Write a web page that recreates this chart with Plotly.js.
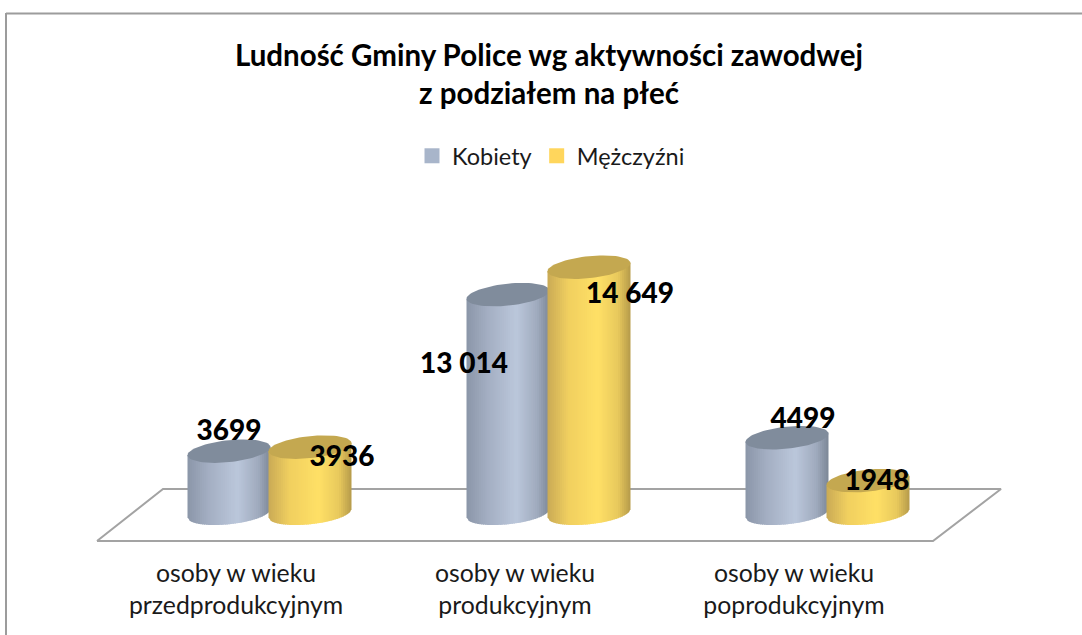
<!DOCTYPE html>
<html><head><meta charset="utf-8">
<script src="https://cdn.plot.ly/plotly-3.0.1.min.js"></script>
<style>html,body{margin:0;padding:0;background:#fff;overflow:hidden}</style>
</head><body><div id="chart" style="width:1082px;height:635px"></div>
<script>
// ---- data ----
const categories = ["osoby w wieku<br>przedprodukcyjnym", "osoby w wieku<br>produkcyjnym", "osoby w wieku<br>poprodukcyjnym"];
const kobiety = [3699, 13014, 4499];
const mezczyzni = [3936, 14649, 1948];
const kobietyLabels = ["3699", "13 014", "4499"];
const mezczyzniLabels = ["3936", "14 649", "1948"];
const seriesNames = ["Kobiety", "Mężczyźni"];

// ---- geometry ----
const W = 1082, H = 635, plotBottom = 550;
const x0px = 236, pxPerCat = 279;      // tick 0 position, category spacing
const y0px = 513.3, pxPerUnit = 0.0168;  // baseline, px per person
const depthShift = 33;                 // bars sit behind the tick plane
const X = p => p / pxPerCat;           // px delta -> x units
const Y = p => -p / pxPerUnit;         // px delta (down) -> y units
const A = 41.5, B = 11, K = 0.1, STRIPS = 40;

const blueStops = [[0,[139,150,168]],[.25,[163,174,194]],[.6,[187,199,219]],[.85,[160,171,190]],[1,[124,135,151]]];
const yellowStops = [[0,[201,170,85]],[.25,[240,207,95]],[.6,[255,224,102]],[.85,[232,201,92]],[1,[181,154,74]]];
const topColors = ["#808c9c", "#c4a850"];
const legendColors = ["#a8b5ca", "#ffd65c"];

function shade(stops, t) {
  for (let i = 1; i < stops.length; i++) {
    if (t <= stops[i][0]) {
      const [a, ca] = stops[i-1], [b, cb] = stops[i], f = (t-a)/(b-a);
      return "rgb(" + ca.map((c, j) => Math.round(c + (cb[j]-c)*f)).join(",") + ")";
    }
  }
  return "rgb(" + stops[stops.length-1][1].join(",") + ")";
}

function cylinder(cat, dxPx, value, stops, topColor) {
  const cx = cat + X(depthShift + dxPx), out = [];
  const edge = d => B * Math.sqrt(Math.max(0, 1 - (d/A)*(d/A)));
  for (let i = 0; i < STRIPS; i++) {
    const d1 = -A + 2*A*i/STRIPS, d2 = Math.min(A, -A + 2*A*(i+1.4)/STRIPS);
    const yb = d => Y(edge(d) - K*d), yt = d => value + Y(-K*d);
    out.push({
      type: "scatter", mode: "lines", fill: "toself", fillcolor: shade(stops, (i+.5)/STRIPS),
      line: {width: 0}, showlegend: false, hoverinfo: "skip",
      x: [cx+X(d1), cx+X(d2), cx+X(d2), cx+X(d1), cx+X(d1)],
      y: [yt(d1), yt(d2), yb(d2), yb(d1), yt(d1)]
    });
  }
  const ex = [], ey = [];
  for (let a = 0; a <= 72; a++) {
    const d = A*Math.cos(a/72*2*Math.PI);
    ex.push(cx + X(d));
    ey.push(value + Y(B*Math.sin(a/72*2*Math.PI) - K*d));
  }
  out.push({type: "scatter", mode: "lines", fill: "toself", fillcolor: topColor,
    line: {width: 0}, showlegend: false, hoverinfo: "skip", x: ex, y: ey});
  return out;
}

// floor
const floorFront = 541 - y0px, floorBack = 489 - y0px;
const px2x = p => (p - x0px) / pxPerCat;
const floor = {type: "scatter", mode: "lines", line: {color: "#a3a3a3", width: 2},
  showlegend: false, hoverinfo: "skip",
  x: [px2x(97), px2x(933), px2x(1001), px2x(163), px2x(97)],
  y: [Y(floorFront), Y(floorFront), Y(floorBack), Y(floorBack), Y(floorFront)]};

let traces = [floor];
categories.forEach((c, i) => {
  traces = traces.concat(cylinder(i, -40, kobiety[i], blueStops, topColors[0]));
  traces = traces.concat(cylinder(i, 41, mezczyzni[i], yellowStops, topColors[1]));
});

// data labels: px offsets from the bar top centre
const blueOff = [[0,-18],[-44,71],[16,-17]];
const yellowOff = [[32,12],[41,29],[9,2]];
const lx = [], ly = [], lt = [];
categories.forEach((c, i) => {
  lx.push(i + X(depthShift - 40 + blueOff[i][0])); ly.push(kobiety[i] + Y(blueOff[i][1])); lt.push(kobietyLabels[i]);
  lx.push(i + X(depthShift + 41 + yellowOff[i][0])); ly.push(mezczyzni[i] + Y(yellowOff[i][1])); lt.push(mezczyzniLabels[i]);
});
traces.push({type: "scatter", mode: "text", x: lx, y: ly, text: lt, textposition: "middle center",
  textfont: {family: "Lato", size: 28, color: "#000", weight: 900}, showlegend: false, hoverinfo: "skip", cliponaxis: false});

// legend
seriesNames.forEach((n, i) => traces.push({type: "scatter", mode: "markers", name: n, x: [null], y: [null],
  marker: {symbol: "square", size: 15, color: legendColors[i]}}));

const layout = {
  width: W, height: H, paper_bgcolor: "#fff", plot_bgcolor: "rgba(0,0,0,0)",
  margin: {l: 0, r: 0, t: 0, b: H - plotBottom, pad: 0},
  title: {text: "<b>Ludność Gminy Police wg aktywności zawodwej<br>z podziałem na płeć</b>",
    font: {family: "Lato", size: 29.5, color: "#000"}, x: 549/W, xanchor: "center", y: 1 - 66/H, yanchor: "middle"},
  legend: {orientation: "h", x: 551/W, xanchor: "center", y: 1 - 156/plotBottom, yanchor: "middle",
    font: {family: "Lato", size: 23.5, color: "#1a1a1a"}, bgcolor: "rgba(0,0,0,0)", itemclick: false},
  xaxis: {range: [px2x(0), px2x(W)], tickmode: "array", tickvals: [0,1,2], ticktext: categories,
    showgrid: false, zeroline: false, showline: false, ticks: "", ticklabelstandoff: 6,
    tickfont: {family: "Lato", size: 24.8, color: "#1a1a1a"}},
  yaxis: {range: [Y(plotBottom - y0px), Y(-y0px)], visible: false, showgrid: false, zeroline: false},
  showlegend: true,
  shapes: [
    {type: "line", xref: "paper", yref: "paper", x0: 6/W, x1: 1, y0: 1 - 13.5/plotBottom, y1: 1 - 13.5/plotBottom, line: {color: "#9c9c9c", width: 2}},
    {type: "line", xref: "paper", yref: "paper", x0: 6/W, x1: 6/W, y0: 1 - 13/plotBottom, y1: 1 - H/plotBottom, line: {color: "#9c9c9c", width: 2}}
  ]
};
Plotly.newPlot("chart", traces, layout, {displayModeBar: false, staticPlot: true});
</script></body></html>
